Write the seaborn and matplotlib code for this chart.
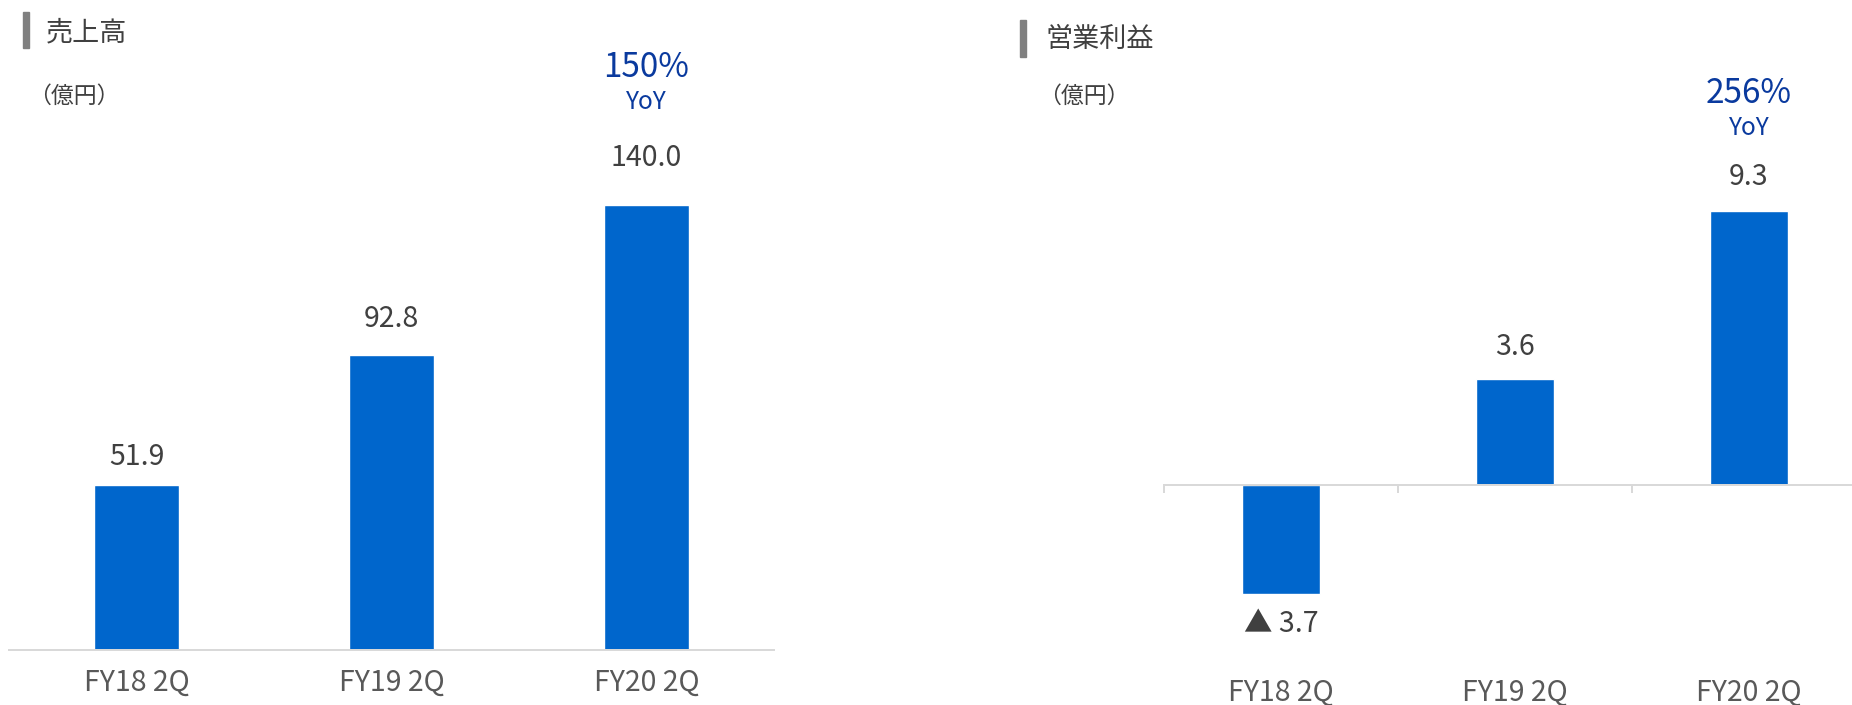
import matplotlib
matplotlib.use("Agg")
import matplotlib.pyplot as plt
import seaborn as sns
from matplotlib.patches import Rectangle
from matplotlib.ticker import FixedLocator

categories = ["FY18 2Q", "FY19 2Q", "FY20 2Q"]
sales = [51.9, 92.8, 140.0]
op_profit = [-3.7, 3.6, 9.3]
sales_yoy = "150%"
profit_yoy = "256%"
title_sales = "売上高"
title_profit = "営業利益"
unit = "（億円）"

BAR = "#0066CC"
BLUE_TXT = "#0A3A9E"
TXT = "#404040"
TICK_TXT = "#595959"
LINE = "#D9D9D9"

sns.set_theme(style="white")
plt.rcParams["font.family"] = ["Noto Sans CJK JP", "DejaVu Sans"]

W, H, DPI = 1852, 705, 100
fig = plt.figure(figsize=(W / DPI, H / DPI), dpi=DPI)
PT = 72 / DPI  # points per pixel

VAL_FS = 20.5
TICK_FS = 20.5
PCT_FS = 24
YOY_FS = 17.5


def ax_rect(x0, x1, ytop, ybot):
    return [x0 / W, 1 - ybot / H, (x1 - x0) / W, (ybot - ytop) / H]


def fmt(v):
    return f"{v:.1f}" if v >= 0 else f"▲ {abs(v):.1f}"


# ---------- left: sales ----------
axL = fig.add_axes(ax_rect(9, 774, 100, 650))
sns.barplot(x=categories, y=sales, ax=axL, color=BAR, saturation=1, width=0.33)
axL.set_xlim(-0.5, 2.5)
axL.set_ylim(0, 173.0)
axL.set_yticks([])
for s in ["top", "right", "left"]:
    axL.spines[s].set_visible(False)
axL.spines["bottom"].set_color(LINE)
axL.spines["bottom"].set_linewidth(2 * PT)
axL.tick_params(axis="x", length=0, pad=18 * PT, labelsize=TICK_FS, labelcolor=TICK_TXT)
axL.set_ylabel("")
sales_off = [28, 36, 47]
for i, v in enumerate(sales):
    axL.annotate(fmt(v), xy=(i, v), xytext=(0, sales_off[i] * PT), textcoords="offset points",
                 ha="center", va="center", fontsize=VAL_FS, color=TXT)
axL.annotate(sales_yoy, xy=(2, sales[2]), xytext=(0, 137 * PT), textcoords="offset points",
             ha="center", va="center", fontsize=PCT_FS, color=BLUE_TXT)
axL.annotate("YoY", xy=(2, sales[2]), xytext=(0, 103 * PT), textcoords="offset points",
             ha="center", va="center", fontsize=YOY_FS, color=BLUE_TXT)

# ---------- right: operating profit ----------
axR = fig.add_axes(ax_rect(1164, 1852, 100, 650))
sns.barplot(x=categories, y=op_profit, ax=axR, color=BAR, saturation=1, width=0.33)
axR.set_xlim(-0.5, -0.5 + 688 / 234)
axR.set_ylim(-5.6, 13.07)
axR.set_yticks([])
for s in ["top", "right", "left"]:
    axR.spines[s].set_visible(False)
axR.spines["bottom"].set_position(("data", 0))
axR.spines["bottom"].set_color(LINE)
axR.spines["bottom"].set_linewidth(2 * PT)
axR.xaxis.set_minor_locator(FixedLocator([i - 0.5 for i in range(len(categories))]))
axR.tick_params(axis="x", which="minor", length=8 * PT, width=2 * PT, color=LINE, direction="out", bottom=True)
axR.tick_params(axis="x", which="major", length=0, pad=193 * PT, labelsize=TICK_FS, labelcolor=TICK_TXT)
axR.set_ylabel("")
prof_off = [-30, 32, 34]
for i, v in enumerate(op_profit):
    axR.annotate(fmt(v), xy=(i, v), xytext=(0, prof_off[i] * PT), textcoords="offset points",
                 ha="center", va="center", fontsize=VAL_FS, color=TXT)
axR.annotate(profit_yoy, xy=(2, op_profit[2]), xytext=(0, 118 * PT), textcoords="offset points",
             ha="center", va="center", fontsize=PCT_FS, color=BLUE_TXT)
axR.annotate("YoY", xy=(2, op_profit[2]), xytext=(0, 83 * PT), textcoords="offset points",
             ha="center", va="center", fontsize=YOY_FS, color=BLUE_TXT)

# ---------- titles ----------
def title(x_bar, y0, y1, x_txt, y_txt, text, unit_x, unit_y):
    fig.patches.append(Rectangle((x_bar / W, 1 - y1 / H), 6 / W, (y1 - y0) / H,
                                 transform=fig.transFigure, color="#808080", figure=fig))
    fig.text(x_txt / W, 1 - y_txt / H, text, ha="left", va="center", fontsize=19.5, color=TXT)
    fig.text(unit_x / W, 1 - unit_y / H, unit, ha="left", va="center", fontsize=16.5, color=TXT)


title(23, 12, 48, 46, 33, title_sales, 28, 96)
title(1020, 20, 57, 1046, 39, title_profit, 1038, 96)

fig.savefig("out.png", dpi=DPI, facecolor="white")
